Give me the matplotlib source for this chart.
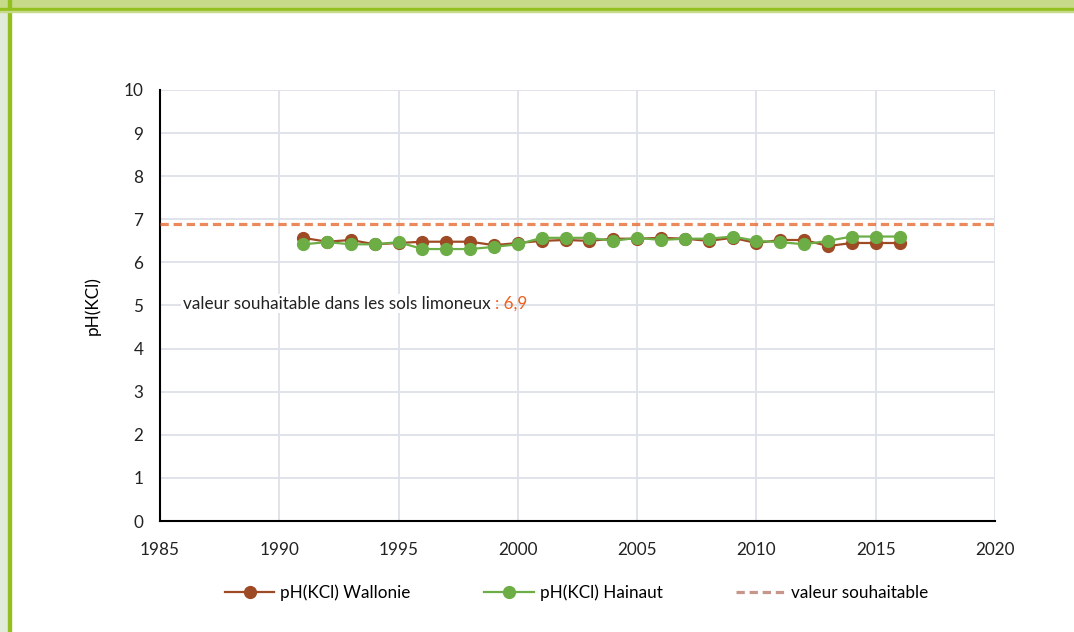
import matplotlib
matplotlib.use("Agg")
import matplotlib.pyplot as plt
from matplotlib.patches import Rectangle
from matplotlib.lines import Line2D

years = list(range(1991, 2017))
wallonie = [6.57, 6.48, 6.52, 6.42, 6.45, 6.48, 6.48, 6.48, 6.40, 6.45,
            6.50, 6.52, 6.50, 6.55, 6.55, 6.57, 6.55, 6.50, 6.57, 6.45,
            6.52, 6.52, 6.38, 6.45, 6.45, 6.45]
hainaut = [6.42, 6.47, 6.42, 6.42, 6.47, 6.31, 6.31, 6.31, 6.36, 6.42,
           6.57, 6.57, 6.57, 6.50, 6.57, 6.52, 6.55, 6.55, 6.60, 6.50,
           6.47, 6.42, 6.50, 6.60, 6.60, 6.60]
target_value = 6.9
x_range = [1985, 2020]
x_ticks = [1985, 1990, 1995, 2000, 2005, 2010, 2015, 2020]
y_ticks = list(range(0, 11))
labels = ["pH(KCl) Wallonie", "pH(KCl) Hainaut", "valeur souhaitable"]

font = ["Lato", "DejaVu Sans"]
plt.rcParams['font.family'] = font
FS = 12.3

W, H = 1074, 632
fig = plt.figure(figsize=(W / 100, H / 100), dpi=100)

# frame decorations
fig.patches.append(Rectangle((0, 0), 8 / W, 1, transform=fig.transFigure, color="#E1EBD9", zorder=0))
fig.patches.append(Rectangle((0, 1 - 9 / H), 1, 9 / H, transform=fig.transFigure, color="#C6DA89", zorder=0))
fig.patches.append(Rectangle((8 / W, 0), 3 / W, 1, transform=fig.transFigure, color="#93C01F", zorder=1))
fig.patches.append(Rectangle((0, 1 - 11 / H), 1, 3 / H, transform=fig.transFigure, color="#93C01F", zorder=1))
fig.patches.append(Rectangle((0, 1 - 12 / H), 1, 1 / H, transform=fig.transFigure, color="#C6DA89", zorder=1))

left, right, bottom, top = 160 / W, 995 / W, (H - 521) / H, (H - 90) / H
ax = fig.add_axes([left, bottom, right - left, top - bottom])

brown = "#9E4A24"
green = "#6DAD46"
orange = "#E8743F"

ax.plot(years, wallonie, color=brown, lw=1.6, marker="o", ms=8.5, zorder=3)
ax.plot(years, hainaut, color=green, lw=1.6, marker="o", ms=8.5, zorder=4)
ax.plot(x_range, [target_value, target_value], color=orange, lw=2.3,
        dashes=(2.6, 1.5), alpha=0.85, zorder=5)

ax.set_xlim(*x_range)
ax.set_ylim(0, 10)
ax.set_xticks(x_ticks)
ax.set_yticks(y_ticks)
ax.tick_params(length=0, labelsize=FS, colors="#222222")
ax.tick_params(axis="x", pad=15)
ax.tick_params(axis="y", pad=12)
ax.grid(True, color="#DDE1E8", lw=1.3)
ax.set_axisbelow(True)
for s in ["top", "right"]:
    ax.spines[s].set_visible(False)
for s in ["left", "bottom"]:
    ax.spines[s].set_color("black")
    ax.spines[s].set_linewidth(1.5)
ax.set_ylabel("pH(KCl)", fontsize=FS, labelpad=16)

t = ax.text(1985.95, 5.04, "valeur souhaitable dans les sols limoneux ", fontsize=FS,
            color="#222222", va="center", ha="left", zorder=6,
            bbox=dict(facecolor="white", edgecolor="none", pad=1))
ax.annotate(": 6,9", xycoords=t, xy=(1, 0.5), va="center", ha="left",
            fontsize=FS, color="#F0601E", zorder=6)

handles = [
    Line2D([], [], color=brown, lw=1.6, marker="o", ms=8.5),
    Line2D([], [], color=green, lw=1.6, marker="o", ms=8.5),
    Line2D([], [], color="#C8958A", lw=2.3, dashes=(2.6, 1.5)),
]
fig.legend(handles, labels, loc="center", bbox_to_anchor=(0.537, (H - 593) / H),
           ncol=3, frameon=False, fontsize=FS, handlelength=2.9,
           columnspacing=4.3, handletextpad=0.35)

fig.savefig("out.png", dpi=100, facecolor="white")
